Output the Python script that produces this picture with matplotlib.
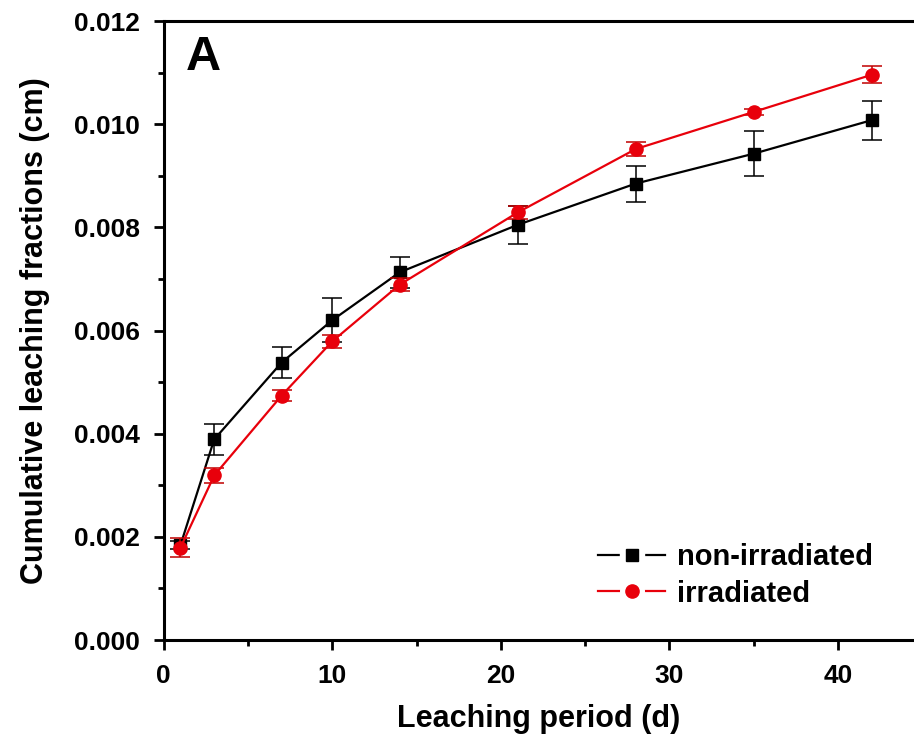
import numpy as np
import matplotlib
matplotlib.use("Agg")
import matplotlib.pyplot as plt
from matplotlib.lines import Line2D
from matplotlib.legend_handler import HandlerTuple
from matplotlib.ticker import MultipleLocator

plt.rcParams['font.family'] = ['Liberation Sans', 'DejaVu Sans']
plt.rcParams['font.weight'] = 'bold'

days = [1, 3, 7, 10, 14, 21, 28, 35, 42]

# non-irradiated (black squares)
non_irr = [0.00184, 0.00389, 0.00538, 0.00620, 0.00713, 0.00805, 0.00885, 0.00943, 0.01008]
non_irr_err = [0.00008, 0.00030, 0.00030, 0.00043, 0.00030, 0.00037, 0.00035, 0.00043, 0.00038]

# irradiated (red circles)
irr = [0.00179, 0.00319, 0.00474, 0.00579, 0.00689, 0.00829, 0.00952, 0.01024, 0.01096]
irr_err = [0.00018, 0.00014, 0.00010, 0.00013, 0.00012, 0.00013, 0.00013, 0.00006, 0.00016]

fig = plt.figure(figsize=(9.14, 7.43), dpi=100)
ax = fig.add_axes([0.179, 0.1386, 0.821, 0.833])

ax.errorbar(days, non_irr, yerr=non_irr_err, color='black', marker='s', markersize=8.5,
            linewidth=1.6, elinewidth=1.1, capsize=7, capthick=1.1, zorder=3)
ax.errorbar(days, irr, yerr=irr_err, color='#e8000b', ecolor='#c00000', marker='o',
            markersize=9.5, linewidth=1.6, elinewidth=1.1, capsize=7, capthick=1.1, zorder=4)

ax.set_xlim(0, 44.5)
ax.set_ylim(0, 0.012)
ax.xaxis.set_major_locator(MultipleLocator(10))
ax.xaxis.set_minor_locator(MultipleLocator(5))
ax.yaxis.set_major_locator(MultipleLocator(0.002))
ax.yaxis.set_minor_locator(MultipleLocator(0.001))
ax.yaxis.set_major_formatter(matplotlib.ticker.FormatStrFormatter('%.3f'))

for side in ['left', 'bottom', 'top']:
    ax.spines[side].set_linewidth(2.2)
ax.spines['right'].set_visible(False)
ax.tick_params(which='major', direction='out', length=7, width=2, labelsize=19, pad=10)
ax.tick_params(which='minor', direction='out', length=4, width=2)
ax.tick_params(top=False, right=False, which='both')

ax.set_xlabel('Leaching period (d)', fontsize=22, fontweight='bold', labelpad=12)
ax.set_ylabel('Cumulative leaching fractions (cm)', fontsize=22, fontweight='bold', labelpad=17)

ax.text(0.03, 0.978, 'A', transform=ax.transAxes, fontsize=35, fontweight='bold',
        va='top', ha='left')

# legend handles: line broken around the marker
h1 = (Line2D([], [], color='black', linewidth=1.6),
      Line2D([], [], color='white', marker='s', markersize=17, linestyle='none'),
      Line2D([], [], color='black', marker='s', markersize=8, linestyle='none'))
h2 = (Line2D([], [], color='#e8000b', linewidth=1.6),
      Line2D([], [], color='white', marker='o', markersize=17, linestyle='none'),
      Line2D([], [], color='#e8000b', marker='o', markersize=9.5, linestyle='none'))
ax.legend([h1, h2], ['non-irradiated', 'irradiated'], handler_map={tuple: HandlerTuple(ndivide=1)},
          loc='lower right', bbox_to_anchor=(0.98, 0.01), frameon=False, fontsize=21,
          handlelength=2.3, handletextpad=0.4, labelspacing=0.3)

fig.savefig('out.png', dpi=100)
